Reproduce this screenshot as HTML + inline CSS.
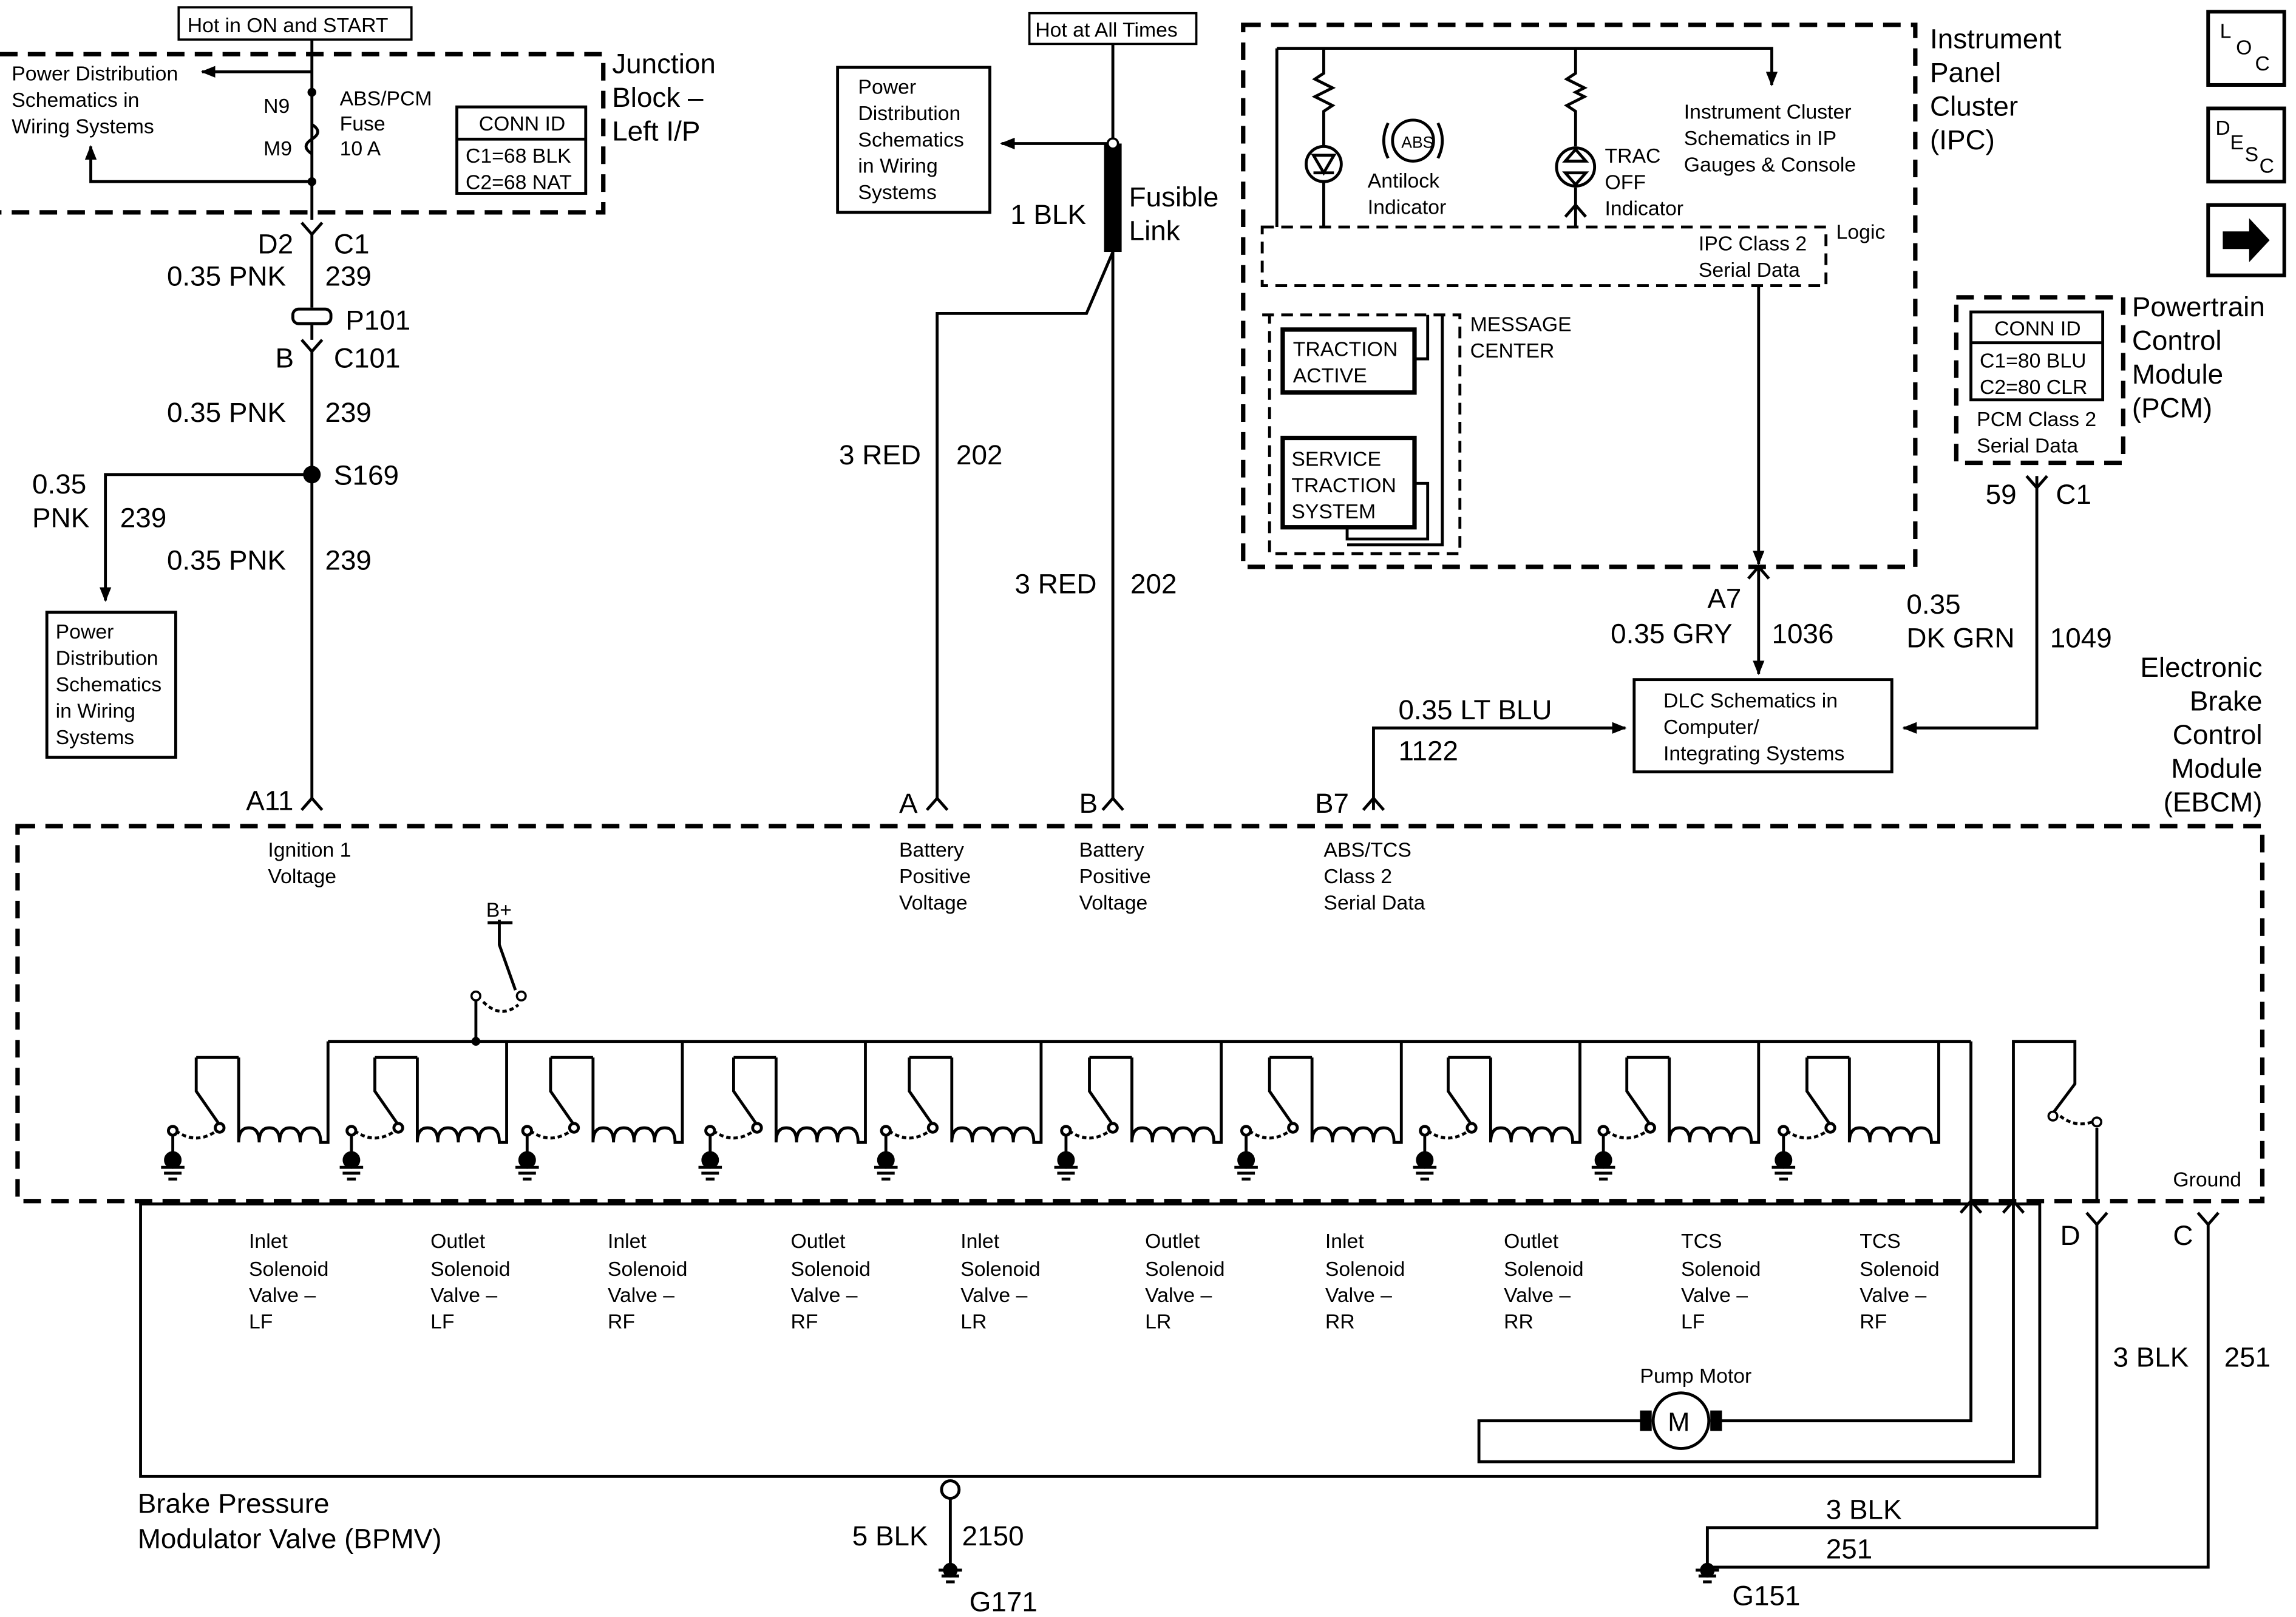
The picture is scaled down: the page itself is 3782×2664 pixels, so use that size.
<!DOCTYPE html>
<html><head><meta charset="utf-8"><style>html,body{margin:0;padding:0;background:#fff}svg{display:block}text{font-family:"Liberation Sans",sans-serif;fill:#000}</style></head><body>
<svg width="3782" height="2664" viewBox="0 0 1568 1104" preserveAspectRatio="none" xmlns="http://www.w3.org/2000/svg">
<defs><marker id="a" markerWidth="10" markerHeight="8" refX="9" refY="4" orient="auto" markerUnits="userSpaceOnUse"><path d="M0,0L10,4L0,8z" fill="#000"/></marker></defs>
<g fill="none" stroke="#000" stroke-width="2">
<g stroke-dasharray="12,7" stroke-width="3">
<path d="M0,37H412V145H0"/>
<rect x="849" y="17" width="459" height="370"/>
<rect x="1336" y="203" width="114" height="113"/>
<rect x="12" y="564" width="1533" height="256"/>
</g>
<g stroke-dasharray="8,5" stroke-width="2">
<rect x="862" y="155" width="385" height="40"/>
<path d="M862,215H997V378H867V215"/>
</g>
<rect x="122" y="5" width="159" height="22" stroke-width="1.5"/>
<rect x="703" y="9" width="114" height="21" stroke-width="1.5"/>
<rect x="312" y="73" width="88" height="59"/>
<path d="M312,95H400"/>
<rect x="572" y="46" width="104" height="99"/>
<rect x="32" y="418" width="88" height="99"/>
<rect x="1116" y="464" width="176" height="63"/>
<rect x="1346" y="213" width="90" height="60"/>
<path d="M1346,234H1436"/>
<rect x="876" y="225" width="90" height="43" stroke-width="3"/>
<rect x="876" y="299" width="90" height="61" stroke-width="3"/>
<path d="M966,245H975V215M966,330H975V368H920V360M985,215V372H920"/>
<path d="M213,27V150"/>
<path d="M213,49H138" marker-end="url(#a)"/>
<path d="M213,85q8,5 0,10q-8,5 0,10"/>
<path d="M213,124H62V100" marker-end="url(#a)"/>
<path d="M206,152L213,160L220,152M213,160V210M213,222V232M206,232L213,240L220,232M213,240V545M206,553L213,545L220,553"/>
<rect x="200" y="211" width="26" height="10" rx="4"/>
<path d="M213,324H72V410" marker-end="url(#a)"/>
<path d="M760,30V545M753,553L760,545L767,553"/>
<path d="M760,98H684" marker-end="url(#a)"/>
<path d="M760,172L742,214H640V545M633,553L640,545L647,553"/>
<path d="M872,33H1210V58" marker-end="url(#a)"/>
<path d="M872,33V155"/>
<path d="M904,33V50l-6,4l12,6l-12,6l12,6l-6,4V100M904,124V155"/>
<circle cx="904" cy="112" r="12"/><path d="M897,106H911L904,118zM897,118H911"/>
<circle cx="965" cy="96" r="14"/>
<path d="M948,84q-6,12 0,24M982,84q6,12 0,24"/>
<path d="M1076,33V50l-6,4l12,6l-6,3l6,3l-12,6l6,4V100M1076,128V155M1069,148L1076,140L1083,148"/>
<circle cx="1076" cy="114" r="13"/><path d="M1069,110H1083L1076,102zM1069,118H1083L1076,126z"/>
<path d="M1201,195V385" marker-end="url(#a)"/>
<path d="M1194,395L1201,387L1208,395M1201,387V460" marker-end="url(#a)"/>
<path d="M1391,325V497H1300" marker-end="url(#a)"/>
<path d="M1384,325L1391,333L1398,325"/>
<path d="M938,553V497H1110" marker-end="url(#a)"/>
<path d="M931,553L938,545L945,553"/>
<path d="M341,628V645L352,676M325,711V680M224,711V711H1346"/>
<path d="M330,684q12,12 24,2" stroke-dasharray="3,2"/>
<path d="M1346,711V820M1375,820V711H1417V740L1402,760M1432,770V820"/>
<path d="M1407,762q10,8 22,4" stroke-dasharray="3,2"/>
</g>
<g fill="#000">
<rect x="754" y="98" width="12" height="74"/>
<circle cx="760" cy="98" r="3.5" fill="#fff" stroke="#000" stroke-width="1.5"/>
<circle cx="213" cy="63" r="3"/><circle cx="213" cy="124" r="3"/>
<circle cx="213" cy="324" r="6"/>
<circle cx="325" cy="711" r="3"/>
<circle cx="325" cy="680" r="3" fill="#fff" stroke="#000" stroke-width="1.5"/>
<circle cx="356" cy="680" r="3" fill="#fff" stroke="#000" stroke-width="1.5"/>
<path d="M333,630H350" stroke="#000" stroke-width="2"/>
<circle cx="1402" cy="762" r="3" fill="#fff" stroke="#000" stroke-width="1.5"/>
<circle cx="1432" cy="766" r="3" fill="#fff" stroke="#000" stroke-width="1.5"/>
</g>
<g fill="none" stroke="#000" stroke-width="2">
<g id="unit">
<path d="M134,722V745L150,768M118,795V772M163,722V780q0,-10 7,-10q7,0 7,10q0,-10 7,-10q7,0 7,10q0,-10 7,-10q7,0 7,10q0,-10 7,-10q7,0 7,10H224V711M134,722H163"/>
<path d="M120,772q14,10 28,0" stroke-dasharray="3,2"/>
<path d="M110,797H126M112,801H124M115,805H121"/>
<circle cx="118" cy="772" r="3" fill="#fff"/><circle cx="150" cy="770" r="3" fill="#fff"/>
<circle cx="118" cy="792" r="5" fill="#000"/>
</g>
<use href="#unit" x="122"/><use href="#unit" x="242"/><use href="#unit" x="367"/><use href="#unit" x="487"/><use href="#unit" x="610"/><use href="#unit" x="733"/><use href="#unit" x="855"/><use href="#unit" x="977"/><use href="#unit" x="1100"/>
<path d="M1339,828L1346,820L1353,828M1368,828L1375,820L1382,828M1425,828L1432,836L1439,828M1432,836V1043H1166V1070M1501,828L1508,836L1515,828M1508,836V1070H1166"/>
<rect x="96" y="822" width="1297" height="186"/>
<path d="M1346,822V970H1168M1128,970H1010V998H1375V822"/>
<circle cx="1148" cy="970" r="19" fill="#fff"/>
<path d="M649,1023V1070M641,1072H657M643,1076H655M646,1080H652M1158,1072H1174M1160,1076H1172M1163,1080H1169"/>
<circle cx="649" cy="1017" r="6" fill="#fff"/>
<rect x="1508" y="8" width="52" height="50" stroke-width="2.5"/>
<rect x="1508" y="74" width="52" height="50" stroke-width="2.5"/>
<rect x="1508" y="140" width="52" height="48" stroke-width="2.5"/>
</g>
<g fill="#000"><rect x="1120" y="963" width="8" height="14"/><rect x="1168" y="963" width="8" height="14"/>
<circle cx="649" cy="1072" r="5"/><circle cx="1166" cy="1072" r="5"/>
<path d="M1518,158H1536V149L1550,164L1536,179V170H1518z"/></g>
<g font-size="14">
<text x="128" y="22">Hot in ON and START</text>
<text x="707" y="25">Hot at All Times</text>
<text x="8" y="55">Power Distribution</text><text x="8" y="73">Schematics in</text><text x="8" y="91">Wiring Systems</text>
<text x="180" y="77">N9</text><text x="180" y="106">M9</text>
<text x="232" y="72">ABS/PCM</text><text x="232" y="89">Fuse</text><text x="232" y="106">10 A</text>
<text x="327" y="89">CONN ID</text><text x="318" y="111">C1=68 BLK</text><text x="318" y="129">C2=68 NAT</text>
<text x="586" y="64">Power</text><text x="586" y="82">Distribution</text><text x="586" y="100">Schematics</text><text x="586" y="118">in Wiring</text><text x="586" y="136">Systems</text>
<text x="38" y="436">Power</text><text x="38" y="454">Distribution</text><text x="38" y="472">Schematics</text><text x="38" y="490">in Wiring</text><text x="38" y="508">Systems</text>
<text x="957" y="101" font-size="11">ABS</text>
<text x="934" y="128">Antilock</text><text x="934" y="146">Indicator</text>
<text x="1096" y="111">TRAC</text><text x="1096" y="129">OFF</text><text x="1096" y="147">Indicator</text>
<text x="1150" y="81">Instrument Cluster</text><text x="1150" y="99">Schematics in IP</text><text x="1150" y="117">Gauges &amp; Console</text>
<text x="1160" y="171">IPC Class 2</text><text x="1160" y="189">Serial Data</text><text x="1254" y="163">Logic</text>
<text x="1004" y="226">MESSAGE</text><text x="1004" y="244">CENTER</text>
<text x="883" y="243">TRACTION</text><text x="883" y="261">ACTIVE</text>
<text x="882" y="318">SERVICE</text><text x="882" y="336">TRACTION</text><text x="882" y="354">SYSTEM</text>
<text x="1362" y="229">CONN ID</text><text x="1352" y="251">C1=80 BLU</text><text x="1352" y="269">C2=80 CLR</text>
<text x="1350" y="291">PCM Class 2</text><text x="1350" y="309">Serial Data</text>
<text x="1136" y="483">DLC Schematics in</text><text x="1136" y="501">Computer/</text><text x="1136" y="519">Integrating Systems</text>
<text x="183" y="585">Ignition 1</text><text x="183" y="603">Voltage</text>
<text x="614" y="585">Battery</text><text x="614" y="603">Positive</text><text x="614" y="621">Voltage</text>
<text x="737" y="585">Battery</text><text x="737" y="603">Positive</text><text x="737" y="621">Voltage</text>
<text x="904" y="585">ABS/TCS</text><text x="904" y="603">Class 2</text><text x="904" y="621">Serial Data</text>
<text x="332" y="626">B+</text><text x="1484" y="810">Ground</text><text x="1120" y="944">Pump Motor</text>
<text x="1139" y="977" font-size="18">M</text>
</g>
<g font-size="14">
<text x="170" y="852">Inlet</text><text x="170" y="871">Solenoid</text><text x="170" y="889">Valve –</text><text x="170" y="907">LF</text>
<text x="294" y="852">Outlet</text><text x="294" y="871">Solenoid</text><text x="294" y="889">Valve –</text><text x="294" y="907">LF</text>
<text x="415" y="852">Inlet</text><text x="415" y="871">Solenoid</text><text x="415" y="889">Valve –</text><text x="415" y="907">RF</text>
<text x="540" y="852">Outlet</text><text x="540" y="871">Solenoid</text><text x="540" y="889">Valve –</text><text x="540" y="907">RF</text>
<text x="656" y="852">Inlet</text><text x="656" y="871">Solenoid</text><text x="656" y="889">Valve –</text><text x="656" y="907">LR</text>
<text x="782" y="852">Outlet</text><text x="782" y="871">Solenoid</text><text x="782" y="889">Valve –</text><text x="782" y="907">LR</text>
<text x="905" y="852">Inlet</text><text x="905" y="871">Solenoid</text><text x="905" y="889">Valve –</text><text x="905" y="907">RR</text>
<text x="1027" y="852">Outlet</text><text x="1027" y="871">Solenoid</text><text x="1027" y="889">Valve –</text><text x="1027" y="907">RR</text>
<text x="1148" y="852">TCS</text><text x="1148" y="871">Solenoid</text><text x="1148" y="889">Valve –</text><text x="1148" y="907">LF</text>
<text x="1270" y="852">TCS</text><text x="1270" y="871">Solenoid</text><text x="1270" y="889">Valve –</text><text x="1270" y="907">RF</text>
</g>
<g font-size="19">
<text x="418" y="50">Junction</text><text x="418" y="73">Block –</text><text x="418" y="96">Left I/P</text>
<text x="176" y="173">D2</text><text x="228" y="173">C1</text>
<text x="114" y="195">0.35 PNK</text><text x="222" y="195">239</text>
<text x="236" y="225">P101</text>
<text x="188" y="251">B</text><text x="228" y="251">C101</text>
<text x="114" y="288">0.35 PNK</text><text x="222" y="288">239</text>
<text x="228" y="331">S169</text>
<text x="22" y="337">0.35</text><text x="22" y="360">PNK</text><text x="82" y="360">239</text>
<text x="114" y="389">0.35 PNK</text><text x="222" y="389">239</text>
<text x="168" y="553">A11</text>
<text x="690" y="153">1 BLK</text><text x="771" y="141">Fusible</text><text x="771" y="164">Link</text>
<text x="573" y="317">3 RED</text><text x="653" y="317">202</text>
<text x="693" y="405">3 RED</text><text x="772" y="405">202</text>
<text x="614" y="555">A</text><text x="737" y="555">B</text><text x="898" y="555">B7</text>
<text x="1318" y="33">Instrument</text><text x="1318" y="56">Panel</text><text x="1318" y="79">Cluster</text><text x="1318" y="102">(IPC)</text>
<text x="1456" y="216">Powertrain</text><text x="1456" y="239">Control</text><text x="1456" y="262">Module</text><text x="1456" y="285">(PCM)</text>
<text x="1356" y="344">59</text><text x="1404" y="344">C1</text>
<text x="1166" y="415">A7</text><text x="1100" y="439">0.35 GRY</text><text x="1210" y="439">1036</text>
<text x="1302" y="419">0.35</text><text x="1302" y="442">DK GRN</text><text x="1400" y="442">1049</text>
<text x="955" y="491">0.35 LT BLU</text><text x="955" y="519">1122</text>
<g text-anchor="end"><text x="1545" y="462">Electronic</text><text x="1545" y="485">Brake</text><text x="1545" y="508">Control</text><text x="1545" y="531">Module</text><text x="1545" y="554">(EBCM)</text></g>
<text x="1407" y="850">D</text><text x="1484" y="850">C</text>
<text x="1443" y="933">3 BLK</text><text x="1519" y="933">251</text>
<text x="94" y="1033">Brake Pressure</text><text x="94" y="1057">Modulator Valve (BPMV)</text>
<text x="582" y="1055">5 BLK</text><text x="657" y="1055">2150</text><text x="662" y="1100">G171</text>
<text x="1247" y="1037">3 BLK</text><text x="1247" y="1064">251</text><text x="1183" y="1096">G151</text>
</g>
<g font-size="14"><text x="1516" y="26">L</text><text x="1527" y="37">O</text><text x="1540" y="48">C</text>
<text x="1513" y="92">D</text><text x="1523" y="102">E</text><text x="1533" y="110">S</text><text x="1543" y="118">C</text></g>
</svg>
</body></html>
